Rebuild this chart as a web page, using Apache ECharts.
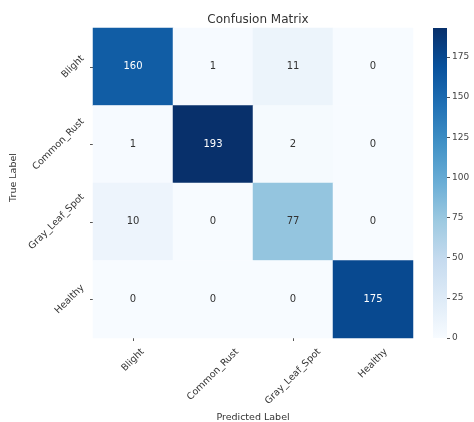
<!DOCTYPE html>
<html>
<head>
<meta charset="utf-8">
<script src="https://cdn.jsdelivr.net/npm/echarts@6/dist/echarts.min.js"></script>
<style>
  html, body { margin: 0; padding: 0; background: #fff; }
  #chart { width: 474px; height: 422px; }
</style>
</head>
<body>
<div id="chart"></div>
<script>
// class names, rows = true label, cols = predicted label
const classes = ['Blight', 'Common_Rust', 'Gray_Leaf_Spot', 'Healthy']
const rowBlight = [160, 1, 11, 0]
const rowCommonRust = [1, 193, 2, 0]
const rowGrayLeafSpot = [10, 0, 77, 0]
const rowHealthy = [0, 0, 0, 175]

const rows = [rowBlight, rowCommonRust, rowGrayLeafSpot, rowHealthy]
const maxVal = Math.max(...rows.flat())
const blues = ['#f7fbff', '#deebf7', '#c6dbef', '#9ecae1', '#6baed6', '#4292c6', '#2171b5', '#08519c', '#08306b']

const cells = []
rows.forEach((row, i) => {
  row.forEach((v, j) => {
    cells.push({
      value: [j, i, v],
      label: { color: v > maxVal * 0.6 ? '#ffffff' : '#333333' }
    })
  })
})

const FONT = 'DejaVu Sans'
const TICK_SIZE = 9.5
const labelFont = { fontFamily: FONT, fontSize: TICK_SIZE, color: '#333' }

// measure text so rotated labels can be placed like matplotlib does (bbox aligned)
const ctx = document.createElement('canvas').getContext('2d')
ctx.font = TICK_SIZE + 'px "' + FONT + '"'
function rotatedBox(text) {
  const w = ctx.measureText(text).width
  return (w + TICK_SIZE) * Math.SQRT1_2
}

// rotated tick label as a text element, centred on its bbox centre
function tickText(text, x, y) {
  return {
    type: 'text',
    x: x,
    y: y,
    rotation: Math.PI / 4,
    style: {
      text: text,
      fill: '#333',
      font: TICK_SIZE + 'px "' + FONT + '"',
      align: 'center',
      verticalAlign: 'middle'
    }
  }
}

// colorbar gradient, bottom (0) -> top (max)
const barGradient = new echarts.graphic.LinearGradient(0, 1, 0, 0,
  blues.map((c, i) => ({ offset: i / (blues.length - 1), color: c })))

const chart = echarts.init(document.getElementById('chart'))

chart.setOption({
  animation: false,
  backgroundColor: '#fff',
  title: {
    text: 'Confusion Matrix',
    left: 253,
    textAlign: 'center',
    top: 9,
    textStyle: { fontFamily: FONT, fontSize: 12, fontWeight: 'normal', color: '#333' }
  },
  grid: [
    { left: 93, top: 28, width: 320, height: 310, outerBoundsMode: 'none' },
    { left: 433, top: 28, width: 14, height: 310, outerBoundsMode: 'none' }
  ],
  xAxis: [
    {
      type: 'category',
      gridIndex: 0,
      data: classes,
      name: 'Predicted Label',
      nameLocation: 'middle',
      nameGap: 75,
      nameTextStyle: labelFont,
      axisLine: { show: false },
      axisTick: { show: true, alignWithLabel: true, length: 3, lineStyle: { color: '#555' } },
      axisLabel: { show: false },
      splitLine: { show: false }
    },
    { type: 'category', gridIndex: 1, show: false, data: ['bar'] }
  ],
  yAxis: [
    {
      type: 'category',
      gridIndex: 0,
      data: classes,
      inverse: true,
      name: 'True Label',
      nameLocation: 'middle',
      nameGap: 74,
      nameRotate: 90,
      nameTextStyle: Object.assign({ padding: [0, 0, 0, 11] }, labelFont),
      axisLine: { show: false },
      axisTick: { show: true, alignWithLabel: true, length: 3, lineStyle: { color: '#555' } },
      axisLabel: { show: false },
      splitLine: { show: false }
    },
    {
      type: 'value',
      gridIndex: 1,
      position: 'right',
      min: 0,
      max: maxVal,
      interval: 25,
      axisLine: { show: false },
      axisTick: { show: true, length: 3, lineStyle: { color: '#555' } },
      axisLabel: Object.assign({ margin: 5, showMaxLabel: false }, labelFont, { color: '#444', fontSize: 9 }),
      splitLine: { show: false }
    }
  ],
  visualMap: {
    type: 'continuous',
    show: false,
    seriesIndex: 0,
    min: 0,
    max: maxVal,
    inRange: { color: blues }
  },
  series: [
    {
      type: 'heatmap',
      xAxisIndex: 0,
      yAxisIndex: 0,
      data: cells,
      label: { show: true, fontFamily: FONT, fontSize: 10 },
      itemStyle: { borderWidth: 0 },
      emphasis: { disabled: true }
    },
    {
      // colorbar drawn as a single full-height bar
      type: 'bar',
      xAxisIndex: 1,
      yAxisIndex: 1,
      data: [maxVal],
      barWidth: '100%',
      silent: true,
      itemStyle: { color: barGradient }
    },
    {
      // predicted-label tick texts, centred under each column
      type: 'custom',
      xAxisIndex: 0,
      yAxisIndex: 0,
      silent: true,
      clip: false,
      data: classes.map((c, i) => [i, 0]),
      renderItem: function (params, api) {
        const i = api.value(0)
        const cs = params.coordSys
        const x = api.coord([i, 0])[0]
        const h = rotatedBox(classes[i])
        return tickText(classes[i], x, cs.y + cs.height + 9 + h / 2)
      }
    },
    {
      // true-label tick texts, right-aligned left of each row
      type: 'custom',
      xAxisIndex: 0,
      yAxisIndex: 0,
      silent: true,
      clip: false,
      data: classes.map((c, i) => [0, i]),
      renderItem: function (params, api) {
        const i = api.value(1)
        const cs = params.coordSys
        const y = api.coord([0, i])[1]
        const w = rotatedBox(classes[i])
        return tickText(classes[i], cs.x - 7 - w / 2, y)
      }
    }
  ]
})
</script>
</body>
</html>
